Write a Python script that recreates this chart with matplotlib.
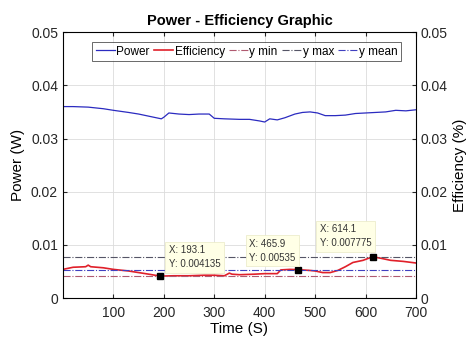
import matplotlib
matplotlib.use("Agg")
import matplotlib.pyplot as plt

plt.rcParams['font.family'] = ['Liberation Sans', 'DejaVu Sans']

# Power series (W)
time_p = [0, 20, 50, 80, 100, 130, 150, 170, 190, 195, 200, 210, 230, 250, 270, 290, 300, 320, 350,
          370, 390, 400, 410, 425, 440, 460, 475, 490, 505, 520, 540, 560, 580, 600, 620, 640, 660, 680, 700]
power = [0.0360, 0.0360, 0.0359, 0.0356, 0.0353, 0.0349, 0.0346, 0.0342, 0.0338, 0.0337, 0.0340, 0.0348,
         0.0346, 0.0345, 0.0346, 0.0346, 0.0338, 0.0337, 0.0336, 0.0336, 0.0333, 0.0331, 0.0337, 0.0335,
         0.0339, 0.0346, 0.0349, 0.0350, 0.0348, 0.0343, 0.0343, 0.0344, 0.0347, 0.0348, 0.0349, 0.0350,
         0.0353, 0.0352, 0.0354]

# Efficiency series
time_e = [0, 20, 45, 50, 55, 80, 100, 130, 150, 170, 193.1, 220, 250, 280, 300, 320, 330, 335, 350, 380,
          400, 425, 432, 450, 465.9, 490, 500, 515, 530, 545, 560, 575, 595, 614.1, 630, 650, 675, 700]
eff = [0.0054, 0.0058, 0.0059, 0.0062, 0.0059, 0.0057, 0.0054, 0.0051, 0.0048, 0.0045, 0.004135, 0.0042,
       0.0042, 0.0043, 0.0043, 0.0042, 0.0047, 0.0045, 0.0044, 0.0045, 0.0046, 0.0046, 0.0053, 0.0054,
       0.00535, 0.0052, 0.0051, 0.0048, 0.0048, 0.0052, 0.0059, 0.0067, 0.0071, 0.007775, 0.0075, 0.0071,
       0.0069, 0.0066]

y_min = 0.004135
y_max = 0.007775
y_mean = 0.0052

tips_x = [193.1, 465.9, 614.1]
tips_y = [0.004135, 0.00535, 0.007775]
tips_text = ["X: 193.1\nY: 0.004135", "X: 465.9\nY: 0.00535", "X: 614.1\nY: 0.007775"]

x_ticks = [100, 200, 300, 400, 500, 600, 700]
y_ticks = [0, 0.01, 0.02, 0.03, 0.04, 0.05]
y_tick_labels = ["0", "0.01", "0.02", "0.03", "0.04", "0.05"]

fig = plt.figure(figsize=(4.7, 3.38), dpi=100)
ax = fig.add_axes([0.134, 0.118, 0.751, 0.787])

ax.plot(time_p, power, color='#2b2bc0', lw=0.9, label='Power')
ax.plot(time_e, eff, color='#e0202a', lw=1.2, label='Efficiency')
ax.axhline(y_min, color='#b05a70', lw=0.8, ls='-.', label='y min')
ax.axhline(y_max, color='#555566', lw=0.8, ls='-.', label='y max')
ax.axhline(y_mean, color='#4040c0', lw=0.8, ls='-.', label='y mean')

ax.plot(tips_x, tips_y, 's', color='black', ms=5, zorder=5)
# offsets in points (px * 0.72)
offsets = [(6, 5), (-35, 5), (-38, 6)]
for x, y, t, off in zip(tips_x, tips_y, tips_text, offsets):
    ax.annotate(t, (x, y), xytext=off, textcoords='offset points', fontsize=7,
                va='bottom', ha='left', color='#333333', linespacing=1.5,
                bbox=dict(boxstyle='square,pad=0.35', fc='#ffffe6', ec='#ececcc', lw=0.6), zorder=6)

ax.set_xlim(0, 700)
ax.set_ylim(0, 0.05)
ax.set_xticks(x_ticks)
ax.set_yticks(y_ticks)
ax.set_yticklabels(y_tick_labels)
ax.grid(True, color='#dcdcdc', lw=0.6)
ax.tick_params(direction='in', length=3, labelsize=10, colors='#262626', top=True, right=False)
ax.tick_params(axis='x', pad=6)
for s in ax.spines.values():
    s.set_color('#262626')
    s.set_linewidth(0.7)
ax.set_xlabel('Time (S)', fontsize=11, labelpad=1)
ax.set_ylabel('Power (W)', fontsize=11, labelpad=4)
ax.set_title('Power - Efficiency Graphic', fontsize=10.5, fontweight='bold', pad=5)

ax2 = ax.twinx()
ax2.set_ylim(0, 0.05)
ax2.set_yticks(y_ticks)
ax2.set_yticklabels(y_tick_labels)
ax2.tick_params(direction='in', length=3, labelsize=10, colors='#262626')
ax2.set_ylabel('Efficiency (%)', fontsize=11, labelpad=4)

leg = ax.legend(loc='upper center', ncol=5, fontsize=8.5, frameon=True, fancybox=False,
                edgecolor='#262626', handlelength=1.6, handletextpad=0.15, columnspacing=0.35,
                borderpad=0.3, bbox_to_anchor=(0.52, 0.985))
leg.get_frame().set_linewidth(0.6)

fig.savefig('out.png', dpi=100, facecolor='white')
